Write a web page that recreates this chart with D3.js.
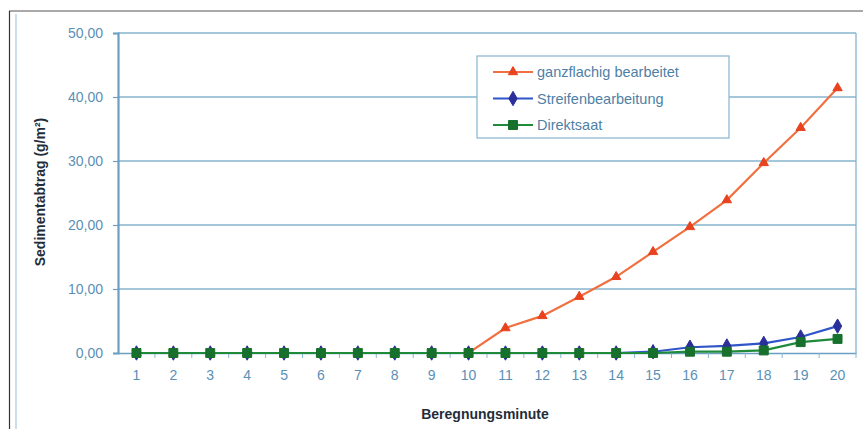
<!DOCTYPE html>
<html>
<head>
<meta charset="utf-8">
<script src="https://cdn.jsdelivr.net/npm/d3@7"></script>
<style>
  html, body { margin: 0; padding: 0; background: #fff; }
  svg { display: block; }
  text { font-family: "Liberation Sans", Arial, sans-serif; }
</style>
</head>
<body>
<svg id="chart" width="863" height="429"></svg>
<script>
// Beregnungsminute 1..20
const minutes = d3.range(1, 21).map(String);

// Sedimentabtrag (g/m²) per Minute
const ganzflaechig = [0, 0, 0, 0, 0, 0, 0, 0, 0, 0, 3.9, 5.8, 8.8, 11.9, 15.8, 19.7, 23.9, 29.7, 35.2, 41.4];
const streifen     = [0, 0, 0, 0, 0, 0, 0, 0, 0, 0, 0, 0, 0, 0, 0.2, 0.9, 1.1, 1.5, 2.5, 4.2];
const direktsaat   = [0, 0, 0, 0, 0, 0, 0, 0, 0, 0, 0, 0, 0, 0, 0, 0.2, 0.2, 0.4, 1.7, 2.2];

const yTicks = [0, 10, 20, 30, 40, 50];
const legendLabels = ["ganzflachig bearbeitet", "Streifenbearbeitung", "Direktsaat"];

const series = [
  { name: legendLabels[0], values: ganzflaechig, line: "#f07040", fill: "#e8421e", shape: d3.symbolTriangle, size: 38 },
  { name: legendLabels[1], values: streifen,     line: "#2f55c8", fill: "#2b2f9a", shape: d3.symbolDiamond,  size: 60 },
  { name: legendLabels[2], values: direktsaat,   line: "#1f8a3a", fill: "#17702c", shape: d3.symbolSquare,   size: 80 }
];

const svg = d3.select("#chart");
const plot = { left: 118, right: 856, top: 33, bottom: 353 };

const x = d3.scaleBand().domain(minutes).range([plot.left, plot.right]);
const y = d3.scaleLinear().domain([0, 50]).range([plot.bottom, plot.top]);
const cx = m => x(m) + x.bandwidth() / 2;
const fmt = v => d3.format(".2f")(v).replace(".", ",");

// Outer frame
svg.append("line").attr("x1", 9).attr("x2", 863).attr("y1", 11).attr("y2", 11)
  .attr("stroke", "#555").attr("stroke-width", 1.2);
svg.append("line").attr("x1", 9.5).attr("x2", 9.5).attr("y1", 11).attr("y2", 429)
  .attr("stroke", "#333").attr("stroke-width", 1.2);
svg.append("line").attr("x1", 16).attr("x2", 16).attr("y1", 14).attr("y2", 429)
  .attr("stroke", "#a8c8dc").attr("stroke-width", 1.2);

// Horizontal gridlines
svg.append("g").selectAll("line").data(yTicks.filter(t => t > 0)).join("line")
  .attr("x1", plot.left).attr("x2", plot.right)
  .attr("y1", d => y(d)).attr("y2", d => y(d))
  .attr("stroke", "#86b4cf").attr("stroke-width", 1.3);

// Right edge of plot area
svg.append("line").attr("x1", plot.right).attr("x2", plot.right)
  .attr("y1", plot.top).attr("y2", plot.bottom)
  .attr("stroke", "#86b4cf").attr("stroke-width", 1.3);

// Y axis
const yAxis = svg.append("g").attr("transform", `translate(${plot.left},0)`)
  .call(d3.axisLeft(y).tickValues(yTicks).tickFormat(fmt).tickSize(5).tickPadding(10));
yAxis.select(".domain").attr("stroke", "#6a9fc2").attr("stroke-width", 2.2);
yAxis.selectAll(".tick line").attr("stroke", "#6a9fc2").attr("stroke-width", 1.2);
yAxis.selectAll(".tick text").attr("fill", "#5b8fb6").attr("font-size", 14)
  .attr("font-family", "Liberation Sans, Arial, sans-serif");

// X axis
const xAxis = svg.append("g").attr("transform", `translate(0,${plot.bottom})`)
  .call(d3.axisBottom(x).tickSize(0).tickPadding(17));
xAxis.select(".domain").attr("stroke", "#6a9fc2").attr("stroke-width", 1.5);
xAxis.selectAll(".tick text").attr("fill", "#5b8fb6").attr("font-size", 14)
  .attr("font-family", "Liberation Sans, Arial, sans-serif");
// Category separators below the axis
svg.append("g").selectAll("line").data(minutes.slice(1).concat(["end"])).join("line")
  .attr("x1", d => d === "end" ? plot.right : x(d))
  .attr("x2", d => d === "end" ? plot.right : x(d))
  .attr("y1", plot.bottom).attr("y2", plot.bottom + 5)
  .attr("stroke", "#8ab6d0").attr("stroke-width", 1);

// Series lines and markers
const line = d3.line().x((d, i) => cx(minutes[i])).y(d => y(d));
series.forEach(s => {
  svg.append("path").datum(s.values)
    .attr("d", line).attr("fill", "none")
    .attr("stroke", s.line).attr("stroke-width", 2.2);
});
series.forEach(s => {
  svg.append("g").selectAll("path").data(s.values).join("path")
    .attr("transform", (d, i) => `translate(${cx(minutes[i])},${y(d)})`)
    .attr("d", d3.symbol().type(s.shape).size(s.size))
    .attr("fill", s.fill).attr("stroke", s.fill).attr("stroke-width", 1)
    .attr("stroke-linejoin", "round");
});

// Axis titles
svg.append("text")
  .attr("transform", `translate(45,192) rotate(-90)`)
  .attr("text-anchor", "middle")
  .attr("font-size", 14).attr("font-weight", "bold").attr("fill", "#1f2d3a")
  .text("Sedimentabtrag (g/m²)");
svg.append("text")
  .attr("x", 485).attr("y", 419)
  .attr("text-anchor", "middle")
  .attr("font-size", 14).attr("font-weight", "bold").attr("fill", "#1f2d3a")
  .text("Beregnungsminute");

// Legend
const legend = svg.append("g");
legend.append("rect").attr("x", 477).attr("y", 56).attr("width", 252).attr("height", 82)
  .attr("fill", "#fff").attr("stroke", "#86b4cf").attr("stroke-width", 1.2);
series.forEach((s, i) => {
  const ly = 72 + i * 26.5;
  legend.append("line").attr("x1", 493).attr("x2", 533).attr("y1", ly).attr("y2", ly)
    .attr("stroke", s.line).attr("stroke-width", 2.2);
  legend.append("path").attr("transform", `translate(513,${ly})`)
    .attr("d", d3.symbol().type(s.shape).size(s.size))
    .attr("fill", s.fill).attr("stroke", s.fill);
  legend.append("text").attr("x", 537).attr("y", ly + 5)
    .attr("font-size", 14.5).attr("fill", "#4f7fa6")
    .text(s.name);
});
</script>
</body>
</html>
